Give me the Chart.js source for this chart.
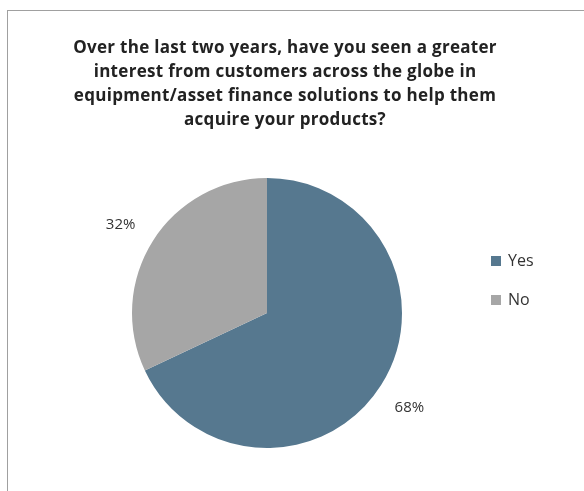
<!DOCTYPE html>
<html>
<head>
<meta charset="utf-8">
<script src="https://cdn.jsdelivr.net/npm/chart.js@4"></script>
<style>
  html, body { margin: 0; padding: 0; background: #fff; }
  #wrap { position: relative; width: 584px; height: 491px; }
  #frame { position: absolute; left: 7px; top: 10px; width: 584px; height: 500px;
           border: 1.5px solid #a0a0a0; box-sizing: border-box; }
  canvas { position: absolute; left: 0; top: 0; }
</style>
</head>
<body>
<div id="wrap">
  <div id="frame"></div>
  <canvas id="pieChart" width="584" height="491"></canvas>
</div>
<script>
// データ
const categories = ['Yes', 'No'];
const shares = [68, 32];
const sliceColors = ['#56788f', '#a6a6a6'];
const titleLines = [
  'Over the last two years, have you seen a greater',
  'interest from customers across the globe in',
  'equipment/asset finance solutions to help them',
  'acquire your products?'
];

const FONT = '"Open Sans", "Liberation Sans", sans-serif';

/* タイトル・ラベル・凡例を描く */
const decorations = {
  id: 'decorations',
  afterDraw(chart) {
    const ctx = chart.ctx;
    ctx.save();

    // タイトル
    ctx.fillStyle = '#222';
    ctx.font = 'bold 17px ' + FONT;
    ctx.letterSpacing = '0.3px';
    ctx.textAlign = 'center';
    ctx.textBaseline = 'middle';
    titleLines.forEach((line, i) => ctx.fillText(line, 285, 48 + i * 24));
    ctx.letterSpacing = '0px';

    // パーセントラベル（スライスの外側）
    ctx.font = '15px ' + FONT;
    ctx.fillStyle = '#333';
    chart.getDatasetMeta(0).data.forEach((arc, i) => {
      const mid = (arc.startAngle + arc.endAngle) / 2;
      const r = arc.outerRadius + 36;
      const x = arc.x + Math.cos(mid) * r;
      const y = arc.y + Math.sin(mid) * r;
      ctx.fillText(shares[i] + '%', x - 2, y + 3);
    });

    // 凡例
    ctx.textAlign = 'left';
    ctx.font = '16px ' + FONT;
    categories.forEach((name, i) => {
      const y = 261 + i * 39;
      ctx.fillStyle = sliceColors[i];
      ctx.fillRect(491, y - 5, 10, 10);
      ctx.fillStyle = '#333';
      ctx.fillText(name, 508, y);
    });
    ctx.restore();
  }
};

new Chart(document.getElementById('pieChart').getContext('2d'), {
  type: 'pie',
  data: {
    labels: categories,
    datasets: [{
      data: shares,
      backgroundColor: sliceColors,
      borderWidth: 0
    }]
  },
  options: {
    responsive: false,
    animation: false,
    layout: { padding: { left: 132, right: 182, top: 178, bottom: 43 } },
    plugins: {
      legend: { display: false },
      tooltip: { enabled: false }
    }
  },
  plugins: [decorations]
});
</script>
</body>
</html>
